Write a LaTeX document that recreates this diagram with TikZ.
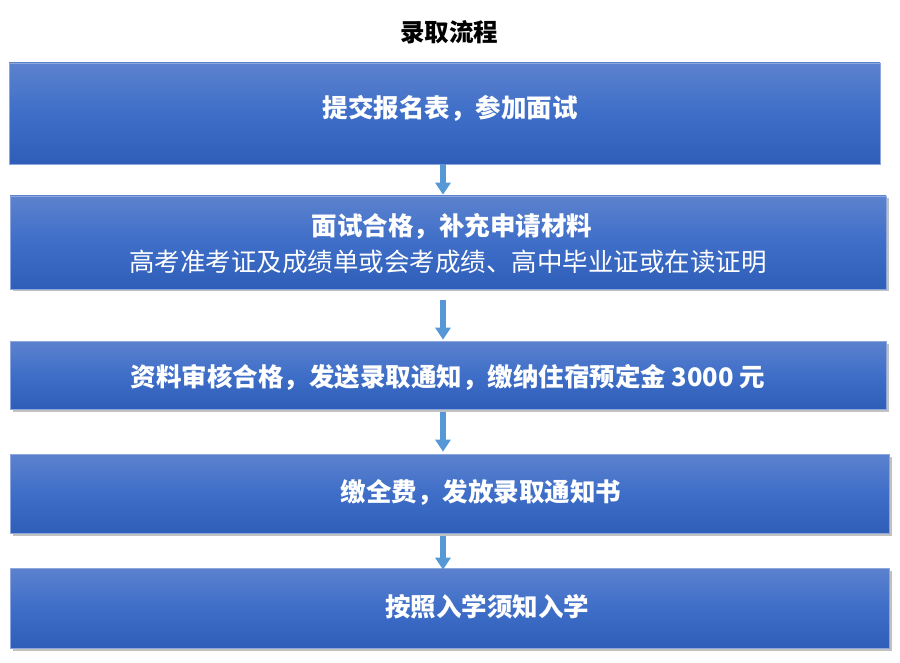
\documentclass[tikz,border=0pt]{standalone}
\usepackage{fontspec}
\newfontfamily\cjk{Noto Sans CJK SC}
\usepackage{tikz}
\usetikzlibrary{arrows.meta,shadows}
\definecolor{boxtop}{RGB}{92,130,206}
\definecolor{boxmid}{RGB}{62,110,200}
\definecolor{boxbot}{RGB}{46,94,184}
\definecolor{arrowblue}{RGB}{86,152,214}

\begin{document}
\begin{tikzpicture}[x=1pt, y=-1pt,
    stepbox/.style={rectangle, draw=boxtop!70!white, line width=0.6pt,
        top color=boxtop, bottom color=boxbot, middle color=boxmid, inner sep=0pt},
    shadowbox/.style={stepbox, drop shadow={shadow xshift=2.5pt, shadow yshift=-2.5pt, opacity=0.35, fill=black!70}},
    steptext/.style={text=white, inner sep=0pt, font=\cjk\bfseries\fontsize{25.5}{30}\selectfont},
    flow/.style={arrowblue, line width=5.5pt, -{Triangle[width=15pt,length=12pt]}}
]
    \useasboundingbox (0,0) rectangle (900,663);

    % title
    \node[inner sep=0pt, font=\cjk\bfseries\fontsize{24.5}{30}\selectfont] (title) at (449,32) {录取流程};

    % boxes
    \node[stepbox, minimum width=871pt, minimum height=101pt] (b1) at (444.5,113.5) {};
    \node[shadowbox, minimum width=876pt, minimum height=93pt] (b2) at (448,242.5) {};
    \node[shadowbox, minimum width=876pt, minimum height=68pt] (b3) at (448,375) {};
    \node[shadowbox, minimum width=879pt, minimum height=79pt] (b4) at (449.5,493.5) {};
    \node[shadowbox, minimum width=879pt, minimum height=80pt] (b5) at (449.5,608) {};

    % texts
    \node[steptext] (t1) at (450,108) {提交报名表，参加面试};
    \node[steptext] (t2) at (452,226) {面试合格，补充申请材料};
    \node[steptext, font=\cjk\fontsize{25.5}{30}\selectfont] (t2b) at (448,262) {高考准考证及成绩单或会考成绩、高中毕业证或在读证明};
    \node[steptext] (t3) at (448,377) {资料审核合格，发送录取通知，缴纳住宿预定金 3000 元};
    \node[steptext] (t4) at (481,492) {缴全费，发放录取通知书};
    \node[steptext] (t5) at (487,607) {按照入学须知入学};

    % arrows
    \coordinate (ax) at (443,0);
    \draw[flow, shorten >=1pt] (b1.south -| ax) -- (b2.north -| ax);
    \draw[flow, shorten <=11pt, shorten >=1pt] (b2.south -| ax) -- (b3.north -| ax);
    \draw[flow, shorten <=3pt, shorten >=2pt] (b3.south -| ax) -- (b4.north -| ax);
    \draw[flow, shorten <=3pt, shorten >=-2pt] (b4.south -| ax) -- (b5.north -| ax);
\end{tikzpicture}
\end{document}
